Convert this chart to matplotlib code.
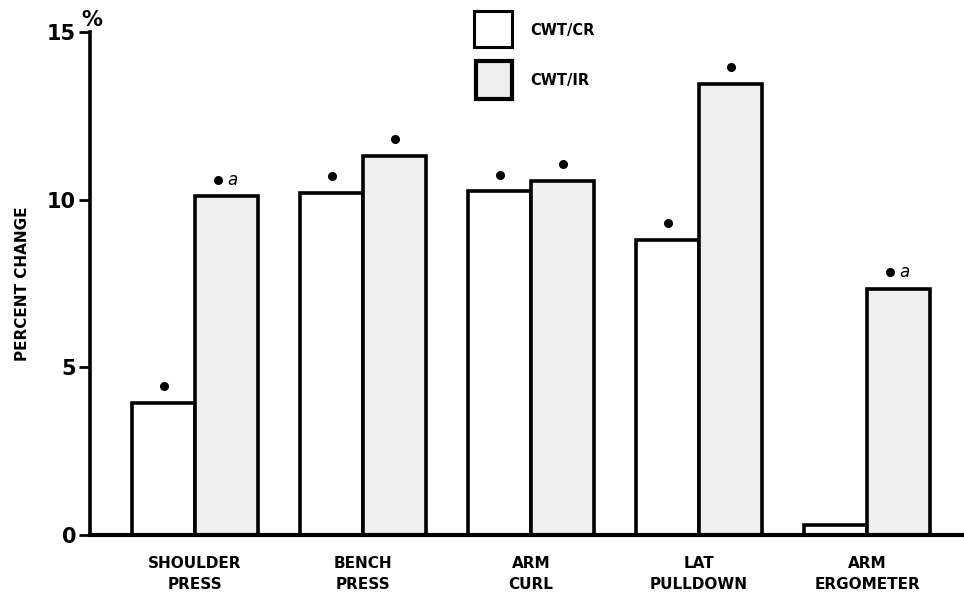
import matplotlib
matplotlib.use("Agg")
import matplotlib.pyplot as plt
from matplotlib.patches import Rectangle
import numpy as np

# data
exercises = ["SHOULDER\nPRESS", "BENCH\nPRESS", "ARM\nCURL", "LAT\nPULLDOWN", "ARM\nERGOMETER"]
cwt_cr = [3.95, 10.2, 10.25, 8.8, 0.3]
cwt_ir = [10.1, 11.3, 10.55, 13.45, 7.35]
# significance marks: '*' only, '*a' also differs between groups
sig_cr = ["*", "*", "*", "*", ""]
sig_ir = ["*a", "*", "*", "*", "*a"]
yticks = [0, 5, 10, 15]

plt.rcParams['font.family'] = ['DejaVu Sans']

fig = plt.figure(figsize=(9.64, 5.99), dpi=100)
ax = fig.add_axes([0.0934, 0.1068, 0.9066, 0.8397])

x = np.arange(len(exercises))
w = 0.375
lw = 2.6
ax.bar(x - w/2, cwt_cr, width=w, facecolor='white', edgecolor='black', linewidth=lw, zorder=2)
ax.bar(x + w/2, cwt_ir, width=w, facecolor='#efefef', edgecolor='black', linewidth=lw, zorder=2)

# significance markers above the bars
off = 0.5
for xi, v, s in zip(x - w/2, cwt_cr, sig_cr):
    if s:
        ax.plot(xi, v + off, 'o', color='black', markersize=5.5, zorder=3)
for xi, v, s in zip(x + w/2, cwt_ir, sig_ir):
    if s == "*":
        ax.plot(xi, v + off, 'o', color='black', markersize=5.5, zorder=3)
    elif s == "*a":
        ax.plot(xi - 0.05, v + off, 'o', color='black', markersize=5.5, zorder=3)
        ax.text(xi + 0.035, v + off, 'a', style='italic', fontsize=12,
                ha='center', va='center', zorder=3)

ax.set_xlim(-0.625, 4.577)
ax.set_ylim(0, 15)
ax.set_yticks(yticks)
ax.set_yticklabels([str(t) for t in yticks], fontsize=15, fontweight='bold')
ax.tick_params(axis='y', direction='out', length=8, width=2, pad=2)
ax.set_xticks(x)
ax.set_xticklabels(exercises, fontsize=11, fontweight='bold', linespacing=1.55)
ax.tick_params(axis='x', length=0, pad=15)

for side in ['top', 'right']:
    ax.spines[side].set_visible(False)
ax.spines['left'].set_linewidth(2.6)
ax.spines['bottom'].set_linewidth(3)
ax.spines['left'].set_zorder(4)

ax.set_ylabel("PERCENT CHANGE", fontsize=11, fontweight='bold', labelpad=12)
ax.text(0.002, 1.005, "%", transform=ax.transAxes, fontsize=15, fontweight='bold',
        ha='center', va='bottom')

# legend drawn by hand near the top
W, H = 964.0, 599.0
fig.patches.append(Rectangle((474/W, 1 - 47/H), 38/W, 36/H, transform=fig.transFigure,
                             facecolor='white', edgecolor='black', linewidth=2.2))
fig.patches.append(Rectangle((476/W, 1 - 99/H), 36/W, 38/H, transform=fig.transFigure,
                             facecolor='#efefef', edgecolor='black', linewidth=3))
fig.text(530/W, 1 - 31/H, "CWT/CR", fontsize=10.5, fontweight='bold', va='center')
fig.text(530/W, 1 - 80/H, "CWT/IR", fontsize=10.5, fontweight='bold', va='center')

fig.savefig("out.png", dpi=100)
